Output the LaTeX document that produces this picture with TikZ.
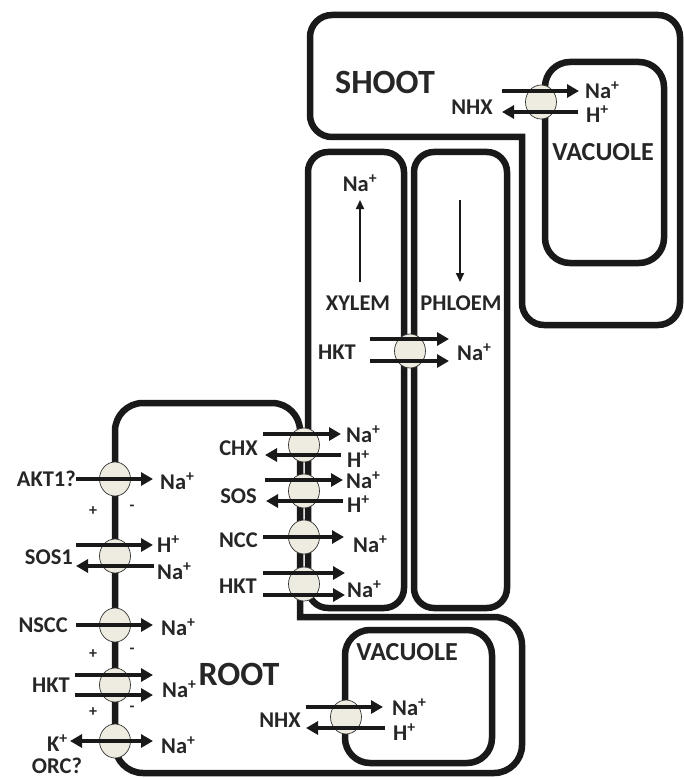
\documentclass[tikz,border=0pt]{standalone}
\usepackage{fontspec}
\setmainfont{Carlito}
\usetikzlibrary{shapes.geometric,arrows.meta}
\definecolor{carrierfill}{RGB}{238,236,224}
\newcommand{\naion}{Na\textsuperscript{+}}
\newcommand{\hion}{H\textsuperscript{+}}
\newcommand{\kion}{K\textsuperscript{+}}
\begin{document}
\begin{tikzpicture}[x=1pt, y=-1pt,
	wall/.style={line width=6.5pt, draw=black!90},
	carrier/.style={ellipse, draw=black!80, line width=0.7pt, fill=carrierfill,
		minimum width=31pt, minimum height=34pt, inner sep=0pt},
	flow/.style={line width=4pt, draw=black!90, -{Triangle[length=12pt,width=13pt]}},
	twoway/.style={line width=4pt, draw=black!90,
		{Triangle[length=12pt,width=13pt]}-{Triangle[length=12pt,width=13pt]}},
	sap/.style={line width=2pt, draw=black!90, -{Triangle[length=9pt,width=8pt]}},
	lbl/.style={font=\fontsize{22.5}{24}\selectfont\bfseries, inner sep=0pt, text=black!85},
	vac/.style={font=\fontsize{26}{28}\selectfont\bfseries, inner sep=0pt, text=black!85},
	organ/.style={font=\fontsize{34}{38}\selectfont\bfseries, inner sep=0pt, text=black!85},
	sign/.style={font=\fontsize{16}{16}\selectfont\bfseries, inner sep=0pt, text=black!85}]
	
	\useasboundingbox (0,0) rectangle (683,778);
	
	% shoot cell and its vacuole
	\draw[wall, rounded corners=22pt, line cap=rect] (522,137) -- (310,137) -- (310,15)
		-- (680,15) -- (680,325) -- (522,325) -- (522,137);
	\draw[wall, rounded corners=25pt] (545,62) rectangle (664,263);
	
	% xylem and phloem
	\draw[wall, rounded corners=20pt] (308,152) rectangle (404,608);
	\draw[wall, rounded corners=20pt] (414,152) rectangle (507,608);
	
	% root cell and its vacuole
	\draw[wall, rounded corners=28pt, line cap=rect] (300,617) -- (522,617) -- (522,773)
		-- (115,773) -- (115,403) -- (300,403) -- (300,617);
	\draw[wall, rounded corners=25pt] (345,630) rectangle (492,763);
	
	% carriers
	\node[carrier] (shootnhx) at (541,102) {};
	\node[carrier] (loadhkt) at (410,351) {};
	\node[carrier] (chx) at (304,445) {};
	\node[carrier] (sos) at (304,491) {};
	\node[carrier] (ncc) at (304,537) {};
	\node[carrier] (xhkt) at (304,584) {};
	\node[carrier] (akt) at (115,479) {};
	\node[carrier] (sosone) at (115,556) {};
	\node[carrier] (nscc) at (115,625) {};
	\node[carrier] (hkt) at (115,685) {};
	\node[carrier] (orc) at (115,741) {};
	\node[carrier] (rootnhx) at (346,717) {};
	
	% fluxes across the membranes
	\draw[flow] (shootnhx.center) ++(-39,-11) -- ++(77,0);
	\draw[flow] (shootnhx.center) ++(37,10) -- ++(-76,0);
	\draw[flow] (loadhkt.center) ++(-40,-12) -- ++(79,0);
	\draw[flow] (loadhkt.center) ++(-40,10) -- ++(79,0);
	\draw[flow] (chx.center) ++(-41,-11) -- ++(78,0);
	\draw[flow] (chx.center) ++(37,10) -- ++(-76,0);
	\draw[flow] (sos.center) ++(-39,-11) -- ++(78,0);
	\draw[flow] (sos.center) ++(39,10) -- ++(-77,0);
	\draw[flow] (ncc.center) ++(-41,0) -- ++(81,0);
	\draw[flow] (xhkt.center) ++(-41,-11) -- ++(82,0);
	\draw[flow] (xhkt.center) ++(-41,11) -- ++(82,0);
	\draw[flow] (akt.center) ++(-39,0) -- ++(77,0);
	\draw[flow] (sosone.center) ++(-39,-11) -- ++(77,0);
	\draw[flow] (sosone.center) ++(39,10) -- ++(-78,0);
	\draw[flow] (nscc.center) ++(-39,0) -- ++(77,0);
	\draw[flow] (hkt.center) ++(-40,-10) -- ++(78,0);
	\draw[flow] (hkt.center) ++(-40,10) -- ++(78,0);
	\draw[twoway] (orc.center) ++(-45,0) -- ++(83,0);
	\draw[flow] (rootnhx.center) ++(-40,-10) -- ++(77,0);
	\draw[flow] (rootnhx.center) ++(39,11) -- ++(-79,0);
	
	% long distance transport
	\draw[sap] (360,282) -- (360,200);
	\draw[sap] (460,200) -- (460,282);
	
	% labels shoot
	\node[organ] (shoot) at (385,82) {SHOOT};
	\node[lbl, anchor=east] (shootnhxlbl) at (493,107) {NHX};
	\node[lbl, anchor=west] (shootna) at (585,90) {\naion};
	\node[lbl, anchor=west] (shooth) at (586,114) {\hion};
	\node[vac] (shootvac) at (603,152) {VACUOLE};
	
	% labels xylem and phloem
	\node[lbl] (xylemna) at (360,183) {\naion};
	\node[lbl] (xylem) at (358,303) {XYLEM};
	\node[lbl] (phloem) at (461,303) {PHLOEM};
	\node[lbl] (loadhktlbl) at (337,352) {HKT};
	\node[lbl, anchor=west] (loadna) at (457,352) {\naion};
	
	% labels root, xylem side
	\node[lbl, anchor=east] (chxlbl) at (258,448) {CHX};
	\node[lbl, anchor=west] (chxna) at (346,434) {\naion};
	\node[lbl, anchor=west] (chxh) at (347,459) {\hion};
	\node[lbl, anchor=east] (soslbl) at (257,496) {SOS};
	\node[lbl, anchor=west] (sosna) at (346,480) {\naion};
	\node[lbl, anchor=west] (sosh) at (347,504) {\hion};
	\node[lbl, anchor=east] (ncclbl) at (258,540) {NCC};
	\node[lbl, anchor=west] (nccna) at (353,544) {\naion};
	\node[lbl, anchor=east] (xhktlbl) at (257,586) {HKT};
	\node[lbl, anchor=west] (xhktna) at (347,589) {\naion};
	
	% labels root, soil side
	\node[lbl, anchor=east] (aktlbl) at (76,479) {AKT1?};
	\node[lbl, anchor=west] (aktna) at (160,481) {\naion};
	\node[lbl, anchor=east] (sosonelbl) at (73,557) {SOS1};
	\node[lbl, anchor=west] (sosoneh) at (157,544) {\hion};
	\node[lbl, anchor=west] (sosonena) at (157,571) {\naion};
	\node[lbl, anchor=east] (nscclbl) at (68,625) {NSCC};
	\node[lbl, anchor=west] (nsccna) at (161,627) {\naion};
	\node[lbl, anchor=east] (hktlbl) at (70,685) {HKT};
	\node[lbl, anchor=west] (hktna) at (162,689) {\naion};
	\node[lbl, anchor=east] (orck) at (68,743) {\kion};
	\node[lbl, anchor=west] (orcna) at (161,745) {\naion};
	\node[lbl] (orclbl) at (57,766) {ORC?};
	\foreach \y/\k in {511/a,654/b,712/c} {
		\node[sign] (plus\k) at (93,\y) {+};
		\node[sign] (minus\k) at (132,\y-3) {-};
	}
	
	% labels root cell
	\node[organ] (root) at (239,674) {ROOT};
	\node[vac] (rootvac) at (407,652) {VACUOLE};
	\node[lbl, anchor=east] (rootnhxlbl) at (301,720) {NHX};
	\node[lbl, anchor=west] (rootna) at (392,707) {\naion};
	\node[lbl, anchor=west] (rooth) at (393,732) {\hion};
	
\end{tikzpicture}
\end{document}
